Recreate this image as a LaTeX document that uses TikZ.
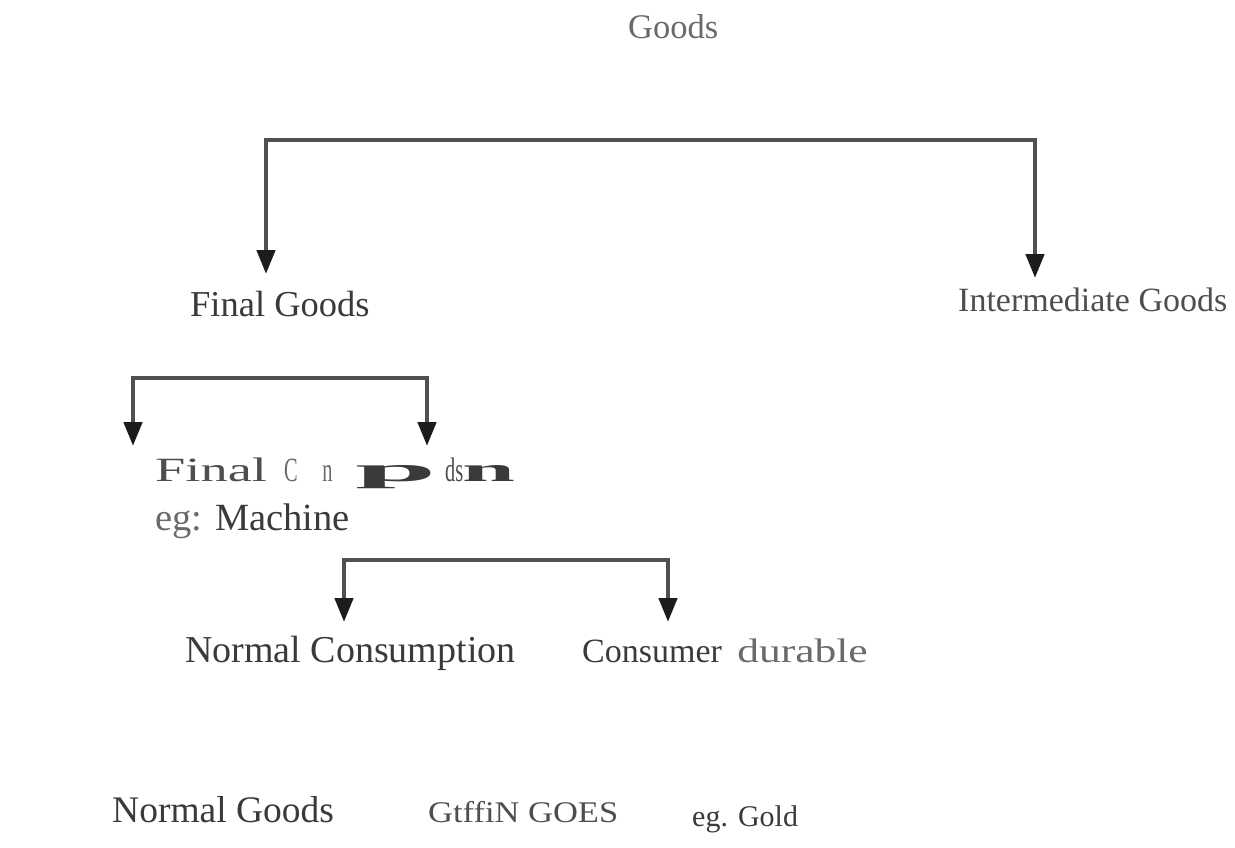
\documentclass[tikz,border=0pt]{standalone}
\usepackage{fontspec}
\usepackage{graphicx}
\setmainfont{Liberation Serif}
\usetikzlibrary{arrows.meta}
\definecolor{linegray}{HTML}{505050}
\definecolor{tipgray}{HTML}{1C1C1C}
\definecolor{txtdark}{HTML}{3A3A3A}
\definecolor{txtmid}{HTML}{4E4E4E}
\definecolor{txtlight}{HTML}{6A6A6A}

\newcommand{\fsz}[1]{\fontsize{#1}{#1}\selectfont}

\begin{document}
\begin{tikzpicture}[x=1pt,y=-1pt,
  branch/.style={draw=linegray, line width=4.5pt, line join=miter,
    -{Triangle[width=18pt,length=24pt,color=tipgray]}},
  lbl/.style={inner sep=0pt, anchor=base west, font=\fsz{34}},
]
\useasboundingbox (0,0) rectangle (1235,847);

% labels
\node[lbl, text=txtlight, font=\fsz{34.5}] (goods) at (628,38) {Goods};
\node[lbl, text=txtdark, font=\fsz{36.5}] (final) at (190,316) {Final Goods};
\node[lbl, text=txtmid] (inter) at (958,311) {Intermediate Goods};

% distorted heading under Final Goods
\node[lbl, text=txtmid] (fin) at (155,481) {\scalebox{1.6}[1]{Final}};
\node[lbl, text=txtlight] (cn) at (284,481) {\scalebox{0.6}[1]{C\hspace{1.2em}n}};
\node[lbl, text=txtdark] (p) at (355,481) {\scalebox{4.3}[1]{\bfseries p}};
\node[lbl, text=txtmid] (ds) at (445,481) {\scalebox{0.6}[1]{ds}};
\node[lbl, text=txtdark] (n) at (462,481) {\scalebox{2.8}[1]{\bfseries n}};

\node[lbl, font=\fsz{38.5}] (eg) at (155,530) {\textcolor{txtlight}{eg:} \textcolor{txtdark}{Machine}};
\node[lbl, text=txtdark, font=\fsz{38}] (normcons) at (185,662) {Normal Consumption};
\node[lbl] (durable) at (582,662) {\textcolor{txtdark}{Consumer}\hspace{0.2em} \textcolor{txtlight}{\scalebox{1.28}[1]{durable}}};
\node[lbl, text=txtdark, font=\fsz{37.5}] (normgoods) at (112,822) {Normal Goods};
\node[lbl, text=txtmid, font=\fsz{30}] (giffen) at (428,822) {\scalebox{1.15}[1]{GtffiN GOES}};
\node[lbl, text=txtdark, font=\fsz{30}] (gold) at (692,826) {eg. Gold};

% branch corners and arrow tips
\coordinate (topL) at (266,140);
\coordinate (topR) at (1035,140);
\coordinate (tipFinal) at (266,274);
\coordinate (tipInter) at (1035,278);
\coordinate (midL) at (133,378);
\coordinate (midR) at (427,378);
\coordinate (tipMidL) at (133,446);
\coordinate (tipMidR) at (427,446);
\coordinate (lowL) at (344,560);
\coordinate (lowR) at (668,560);
\coordinate (tipLowL) at (344,622);
\coordinate (tipLowR) at (668,622);

\draw[branch] (topR) -- (topL) -- (tipFinal);
\draw[branch] (topL) -- (topR) -- (tipInter);
\draw[branch] (midR) -- (midL) -- (tipMidL);
\draw[branch] (midL) -- (midR) -- (tipMidR);
\draw[branch] (lowR) -- (lowL) -- (tipLowL);
\draw[branch] (lowL) -- (lowR) -- (tipLowR);
\end{tikzpicture}
\end{document}
